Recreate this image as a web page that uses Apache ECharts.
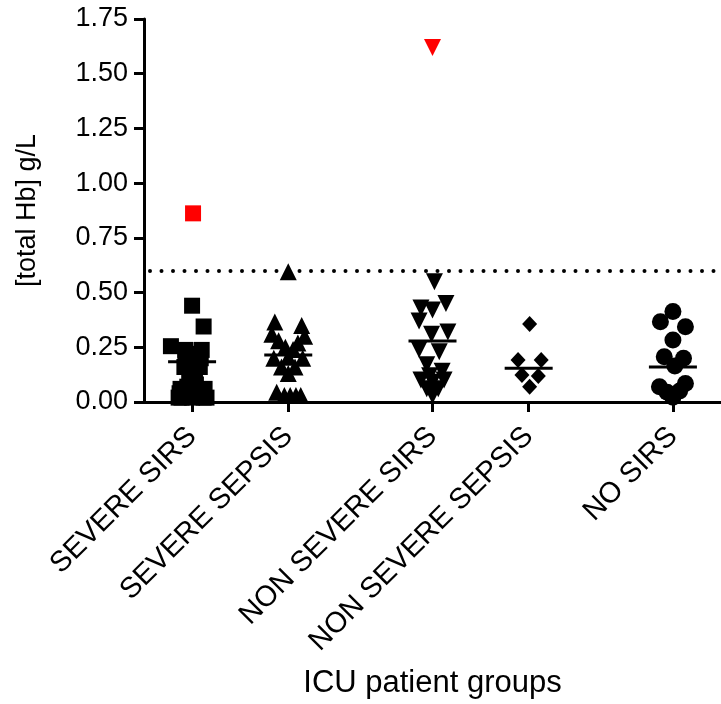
<!DOCTYPE html>
<html>
<head>
<meta charset="utf-8">
<script src="https://cdn.jsdelivr.net/npm/echarts@6/dist/echarts.min.js"></script>
<style>
html,body{margin:0;padding:0;background:#fff;}
#chart{width:721px;height:704px;}
</style>
</head>
<body>
<div id="chart"></div>
<script>
// ---- data ----
const categories = ['SEVERE SIRS', 'SEVERE SEPSIS', 'NON SEVERE SIRS', 'NON SEVERE SEPSIS', 'NO SIRS'];
const groupPos = [1, 2, 3.5, 4.5, 6];
const medians = [0.184, 0.215, 0.279, 0.154, 0.16];
const threshold = 0.6;
const yTickLabels = ['0.00', '0.25', '0.50', '0.75', '1.00', '1.25', '1.50', '1.75'];

const severeSirsX = [1.0, 1.12, 0.78, 0.93, 1.1, 1.0, 0.93, 1.09, 1.0, 0.97, 1.05, 1.0, 0.98, 1.03, 0.97, 0.88, 1.13, 0.93, 1.08, 1.0, 0.89, 1.12, 1.0,
                     0.94, 1.06, 0.92, 1.08, 1.02, 0.98, 1.04, 0.95, 1.1, 0.9, 1.15, 0.86, 0.87];
const severeSirsY = [0.44, 0.345, 0.255, 0.238, 0.238, 0.22, 0.2, 0.2, 0.19, 0.17, 0.17, 0.15, 0.13, 0.11, 0.09, 0.06, 0.06, 0.04, 0.04, 0.05, 0.02, 0.02, 0.02,
                     0.21, 0.21, 0.16, 0.16, 0.14, 0.1, 0.08, 0.07, 0.04, 0.05, 0.02, 0.02, 0.04];

const severeSepsisX = [2.0, 1.86, 2.14, 1.83, 2.17, 1.9, 2.1, 1.97, 2.05, 1.85, 2.15, 2.0, 1.93, 2.07, 2.0, 1.88, 1.96, 2.02, 2.08, 2.13];
const severeSepsisY = [0.595, 0.365, 0.35, 0.31, 0.3, 0.28, 0.27, 0.25, 0.24, 0.2, 0.2, 0.205, 0.16, 0.16, 0.13, 0.045, 0.03, 0.03, 0.03, 0.03];

const nonSevereSirsX = [3.52, 3.64, 3.38, 3.5, 3.36, 3.49, 3.66, 3.36, 3.57, 3.44, 3.6, 3.47, 3.38, 3.62, 3.5, 3.44, 3.56, 3.5];
const nonSevereSirsY = [0.55, 0.45, 0.43, 0.42, 0.37, 0.31, 0.32, 0.24, 0.23, 0.17, 0.14, 0.12, 0.1, 0.1, 0.09, 0.06, 0.06, 0.03];

const nonSevereSepsisX = [4.51, 4.39, 4.63, 4.43, 4.6, 4.51];
const nonSevereSepsisY = [0.356, 0.192, 0.192, 0.123, 0.119, 0.07];

const noSirsX = [6.0, 5.87, 6.13, 6.0, 5.91, 6.11, 6.02, 5.86, 6.13, 5.94, 6.07, 6.0];
const noSirsY = [0.413, 0.367, 0.344, 0.283, 0.207, 0.2, 0.165, 0.07, 0.085, 0.045, 0.05, 0.022];

const outlierX = [1.01, 3.5];
const outlierY = [0.862, 1.62];

// ---- chart ----
const pair = (xs, ys) => xs.map((x, i) => [x, ys[i]]);
const FONT = '"Liberation Sans", Arial, Helvetica, sans-serif';
const chart = echarts.init(document.getElementById('chart'), null, {renderer: 'canvas'});

function pointSeries(name, xs, ys, symbol, size, rotate, color) {
  return {
    name: name,
    type: 'scatter',
    data: pair(xs, ys),
    symbol: symbol,
    symbolSize: size,
    symbolRotate: rotate || 0,
    itemStyle: {color: color || '#000', opacity: 1},
    emphasis: {disabled: true},
    z: 3
  };
}

const option = {
  animation: false,
  backgroundColor: '#fff',
  grid: {left: 144, right: 0, top: 19, bottom: 302, containLabel: false},
  xAxis: {
    type: 'value',
    min: 0.5,
    max: 6.5,
    name: 'ICU patient groups',
    nameLocation: 'middle',
    nameGap: 266,
    nameTextStyle: {fontSize: 31, color: '#000', fontFamily: FONT},
    axisLine: {show: true, lineStyle: {color: '#000', width: 3}},
    axisTick: {show: true, customValues: groupPos, length: 10, lineStyle: {color: '#000', width: 3}},
    axisLabel: {
      show: true,
      customValues: groupPos,
      rotate: 45,
      margin: 30,
      fontSize: 29,
      color: '#000',
      fontFamily: FONT,
      formatter: function (v) {
        let best = 0;
        groupPos.forEach((p, i) => { if (Math.abs(p - v) < Math.abs(groupPos[best] - v)) best = i; });
        return categories[best];
      }
    },
    splitLine: {show: false}
  },
  yAxis: {
    type: 'value',
    min: 0,
    max: 1.75,
    interval: 0.25,
    name: '[total Hb] g/L',
    nameLocation: 'middle',
    nameGap: 103,
    nameTextStyle: {fontSize: 27, color: '#000', fontFamily: FONT},
    axisLine: {show: true, lineStyle: {color: '#000', width: 3}},
    axisTick: {show: true, length: 10, lineStyle: {color: '#000', width: 3}},
    axisLabel: {
      fontSize: 27,
      color: '#000',
      margin: 16,
      fontFamily: FONT,
      formatter: function (v) { return yTickLabels[Math.round(v / 0.25)]; }
    },
    splitLine: {show: false}
  },
  series: [
    Object.assign(pointSeries('SEVERE SIRS', severeSirsX, severeSirsY, 'rect', 16, 0), {
      markLine: {
        silent: true,
        symbol: ['none', 'none'],
        label: {show: false},
        lineStyle: {color: '#000', width: 4, type: [0, 11.5], cap: 'round', dashOffset: -6},
        data: [{yAxis: threshold}]
      }
    }),
    pointSeries('SEVERE SEPSIS', severeSepsisX, severeSepsisY, 'triangle', 17, 0),
    pointSeries('NON SEVERE SIRS', nonSevereSirsX, nonSevereSirsY, 'triangle', 17, 180),
    pointSeries('NON SEVERE SEPSIS', nonSevereSepsisX, nonSevereSepsisY, 'diamond', [15, 16], 0),
    pointSeries('NO SIRS', noSirsX, noSirsY, 'circle', 17, 0),
    {
      name: 'outliers',
      type: 'scatter',
      data: [
        {value: [outlierX[0], outlierY[0]], symbol: 'rect', symbolSize: 16},
        {value: [outlierX[1], outlierY[1]], symbol: 'triangle', symbolSize: 17, symbolRotate: 180}
      ],
      itemStyle: {color: '#ff0000', opacity: 1},
      emphasis: {disabled: true},
      z: 3
    },
    {
      name: 'median',
      type: 'scatter',
      data: pair(groupPos, medians),
      symbol: 'rect',
      symbolSize: [48, 3],
      itemStyle: {color: '#000', opacity: 1},
      emphasis: {disabled: true},
      z: 4
    }
  ]
};
chart.setOption(option);
</script>
</body>
</html>
